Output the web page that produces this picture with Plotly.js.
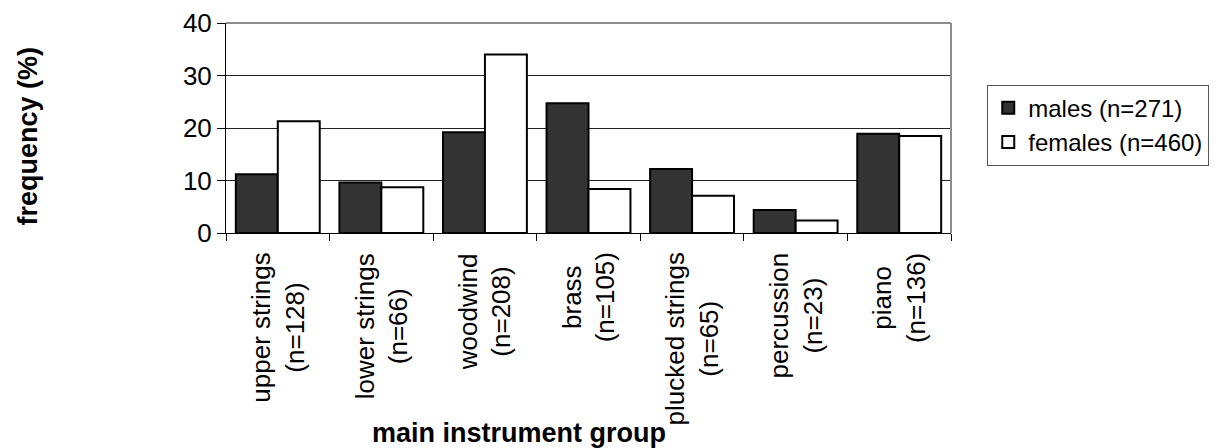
<!DOCTYPE html>
<html>
<head>
<meta charset="utf-8">
<script src="https://cdn.plot.ly/plotly-3.0.1.min.js"></script>
<style>
  html, body { margin: 0; padding: 0; background: #fff; }
  #chart { width: 1229px; height: 448px; }
</style>
</head>
<body>
<div id="chart"></div>
<script>
// Instrument groups and number of players in each group
const categories = ['upper strings', 'lower strings', 'woodwind', 'brass', 'plucked strings', 'percussion', 'piano'];
const groupSizes = [128, 66, 208, 105, 65, 23, 136];

// Share of each sex playing the group as main instrument (%)
const malesPct = [11.2, 9.6, 19.2, 24.7, 12.2, 4.4, 18.9];
const femalesPct = [21.3, 8.7, 34.0, 8.4, 7.1, 2.4, 18.5];

const seriesNames = ['males (n=271)', 'females (n=460)'];
const yTicks = [0, 10, 20, 30, 40];

const FONT = 'Liberation Sans, Arial, Helvetica, sans-serif';

const traces = [
  {
    type: 'bar', name: seriesNames[0], x: categories, y: malesPct,
    marker: { color: '#333333', line: { color: '#000', width: 2 } },
    hoverinfo: 'skip'
  },
  {
    type: 'bar', name: seriesNames[1], x: categories, y: femalesPct,
    marker: { color: '#ffffff', line: { color: '#000', width: 2 } },
    hoverinfo: 'skip'
  }
];

// Two-line, vertical category labels centred under each group
const catLabels = categories.map((c, i) => ({
  xref: 'x', yref: 'paper', x: c, y: -0.085,
  xanchor: 'center', yanchor: 'top',
  text: c + '<br>(n=' + groupSizes[i] + ')',
  textangle: -90, align: 'center', showarrow: false,
  font: { family: FONT, size: 26, color: '#000' }
}));

const layout = {
  width: 1229, height: 448,
  margin: { l: 226, r: 278, t: 23, b: 215 },
  paper_bgcolor: '#fff', plot_bgcolor: '#fff',
  font: { family: FONT, size: 26, color: '#000' },
  barmode: 'group', bargap: 0.19, bargroupgap: 0,
  showlegend: true,
  legend: {
    x: 1.05, y: 0.706, xanchor: 'left', yanchor: 'top',
    bordercolor: '#555', borderwidth: 1, bgcolor: '#fff',
    font: { family: FONT, size: 24, color: '#000' },
    traceorder: 'normal'
  },
  xaxis: {
    type: 'category', showticklabels: false,
    ticks: 'outside', tickson: 'boundaries', ticklen: 7, tickcolor: '#000', tickwidth: 1,
    showline: true, linecolor: '#000', linewidth: 1,
    showgrid: false, zeroline: false, fixedrange: true
  },
  yaxis: {
    range: [0, 40], tickvals: yTicks, ticktext: yTicks.map(String),
    ticks: 'outside', ticklen: 8, tickcolor: '#000', tickwidth: 1,
    tickfont: { family: FONT, size: 26, color: '#000' },
    showline: true, linecolor: '#000', linewidth: 1,
    showgrid: true, gridcolor: '#222', gridwidth: 1,
    zeroline: false, fixedrange: true
  },
  shapes: [
    { type: 'line', xref: 'paper', yref: 'paper', x0: 0, x1: 1, y0: 1, y1: 1, line: { color: '#8c8c8c', width: 2 } },
    { type: 'line', xref: 'paper', yref: 'paper', x0: 1, x1: 1, y0: 0, y1: 1, line: { color: '#8c8c8c', width: 2 } }
  ],
  annotations: catLabels.concat([
    {
      xref: 'paper', yref: 'paper', x: 0.404, y: -0.952,
      xanchor: 'center', yanchor: 'middle',
      text: '<b>main instrument group</b>', showarrow: false,
      font: { family: FONT, size: 27, color: '#000' }
    },
    {
      xref: 'paper', yref: 'paper', x: -0.273, y: 0.46,
      xanchor: 'center', yanchor: 'middle', textangle: -90,
      text: '<b>frequency (%)</b>', showarrow: false,
      font: { family: FONT, size: 27, color: '#000' }
    }
  ])
};

Plotly.newPlot('chart', traces, layout, { staticPlot: true, displayModeBar: false });
</script>
</body>
</html>
